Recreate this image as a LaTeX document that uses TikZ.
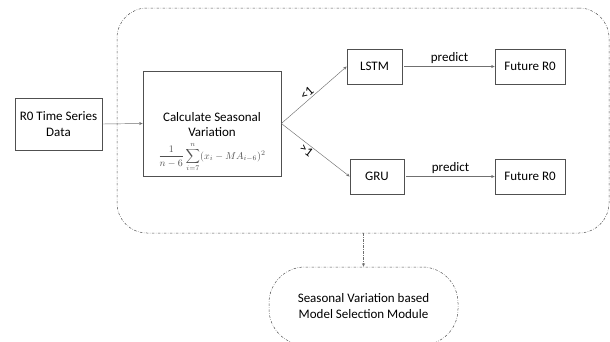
\documentclass[tikz,border=0pt]{standalone}
\usepackage{fontspec}
\setmainfont{Carlito}
\usetikzlibrary{arrows.meta}
\definecolor{boxc}{HTML}{505050}
\definecolor{linec}{HTML}{707070}
\begin{document}
\begin{tikzpicture}[x=1pt,y=-1pt,
  box/.style={draw=boxc, line width=0.7pt, inner sep=0pt, font=\fontsize{13}{15.5}\selectfont, align=center},
  conn/.style={draw=linec, line width=0.45pt, -{Stealth[length=3.5pt,width=3pt]}},
  dd/.style={draw=boxc, line width=0.5pt, dash pattern=on 2.5pt off 1.5pt on 0.5pt off 1.5pt},
  lbl/.style={font=\fontsize{13}{15}\selectfont, inner sep=1.5pt}]
\path[use as bounding box] (0,0) rectangle (610,341);
\clip (0,0) rectangle (610,341);
\node[dd, rounded corners=30pt, minimum width=492pt, minimum height=225pt] (module) at (363,120.5) {};
\node[box, minimum width=87pt, minimum height=52pt] (r0) at (58.5,124) {R0 Time Series\\Data};
\node[box, minimum width=138pt, minimum height=105pt] (calc) at (212,123.5) {};
\node[align=center, font=\fontsize{13}{15.5}\selectfont, inner sep=0pt] (calctxt) at (212,142) {Calculate Seasonal\\Variation\\[5pt]{\color{boxc}\fontsize{9.8}{11}\selectfont$\displaystyle\frac{1}{n-6}\sum_{i=7}^{n}(x_i-MA_{i-6})^2$}};
\node[box, minimum width=55pt, minimum height=35pt] (lstm) at (374.5,66.5) {LSTM};
\node[box, minimum width=54pt, minimum height=35pt] (gru) at (377,176.5) {GRU};
\node[box, minimum width=70pt, minimum height=35pt] (fut1) at (530,66.5) {Future R0};
\node[box, minimum width=70pt, minimum height=35pt] (fut2) at (530,176.5) {Future R0};
\node[dd, rounded corners=36pt, minimum width=189pt, minimum height=78pt, align=center, font=\fontsize{13}{15.5}\selectfont] (sel) at (363.5,306) {Seasonal Variation based\\Model Selection Module};
\draw[conn] (r0.east) -- (calc.west);
\draw[conn] (calc.east) -- node[lbl, sloped, above, pos=0.45] (lt) {<1} (lstm.west);
\draw[conn] (calc.east) -- node[lbl, sloped, below, pos=0.42] (gt) {>1} (gru.west);
\draw[conn] ([xshift=2pt]lstm.east) -- node[lbl, above, yshift=1pt] (p1) {predict} (fut1.west);
\draw[conn] ([xshift=2pt]gru.east) -- node[lbl, above, yshift=1pt] (p2) {predict} (fut2.west);
\draw[conn, dd, draw=linec] (module.south -| sel.north) -- (sel.north);
\end{tikzpicture}
\end{document}
